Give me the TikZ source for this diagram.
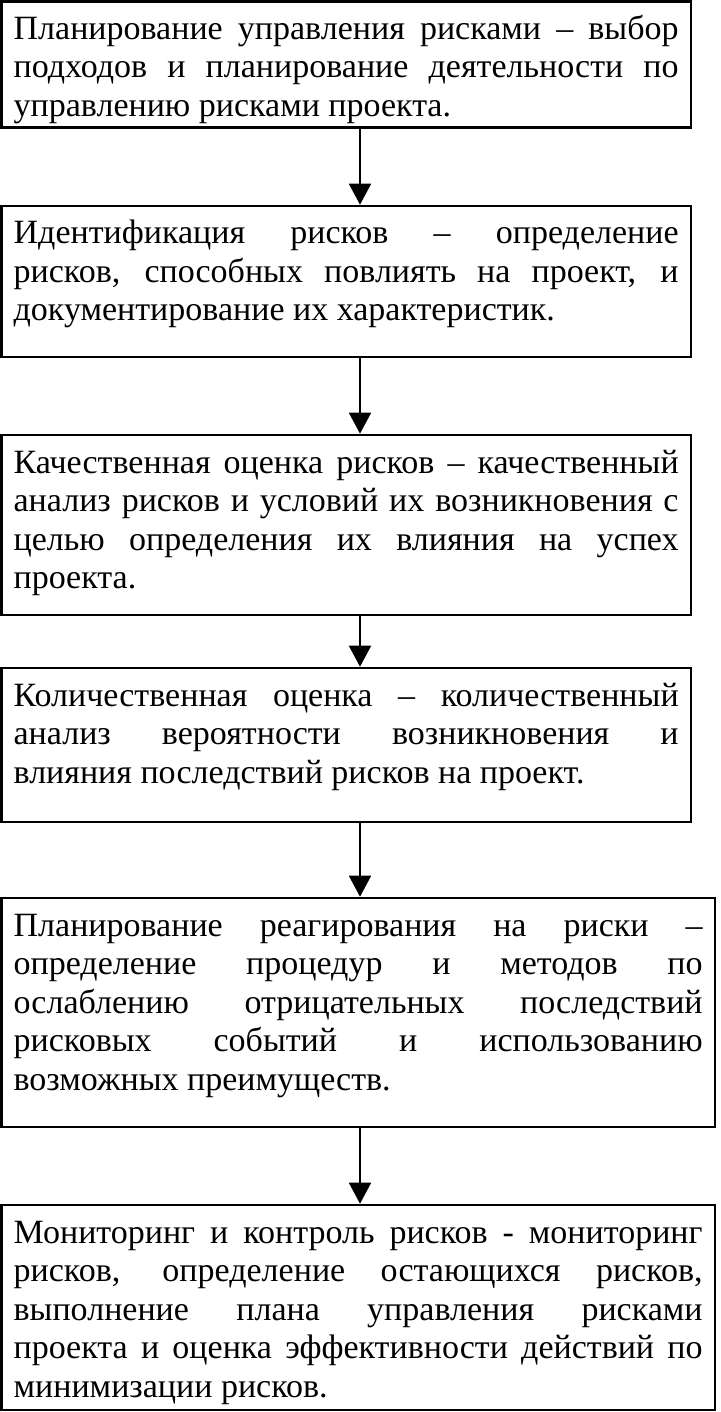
\documentclass[tikz,border=0pt]{standalone}
\usepackage{fontspec}
\setmainfont{Liberation Serif}
\usetikzlibrary{positioning, arrows.meta}

\newcommand{\fullline}[1]{\makebox[\hsize][s]{#1}}

\begin{document}
\begin{tikzpicture}[
	stage/.style={draw, line width=2.6pt, anchor=north west, align=justify,
		text width=665pt, inner xsep=12.35pt, inner ysep=6pt, text height=32pt,
		font=\fontsize{34pt}{38.5pt}\selectfont},
	wide/.style={text width=689pt},
	flow/.style={-{Triangle[length=21pt, width=22pt]}, line width=1.8pt}
	]
	\useasboundingbox (0,0) rectangle (720pt,-1412pt);
	\coordinate (axis) at (360pt,0);

	\node [stage, text depth=82pt] (plan) at (0,0)
		{\fullline{Планирование управления рисками – выбор}\\
		\fullline{подходов и планирование деятельности по}\\
		управлению рисками проекта.};
	\node [stage, text depth=107pt, below right=76.1pt and 0pt of plan.south west] (ident)
		{\fullline{Идентификация рисков – определение}\\
		\fullline{рисков, способных повлиять на проект, и}\\
		документирование их характеристик.};
	\node [stage, text depth=136pt, below right=75.4pt and 0pt of ident.south west] (quali)
		{\fullline{Качественная оценка рисков – качественный}\\
		\fullline{анализ рисков и условий их возникновения с}\\
		\fullline{целью определения их влияния на успех}\\
		проекта.};
	\node [stage, text depth=110pt, below right=50.4pt and 0pt of quali.south west] (quanti)
		{\fullline{Количественная оценка – количественный}\\
		\fullline{анализ вероятности возникновения и}\\
		влияния последствий рисков на проект.};
	\node [stage, wide, text depth=185pt, below right=73.4pt and 0pt of quanti.south west] (respond)
		{\fullline{Планирование реагирования на риски –}\\
		\fullline{определение процедур и методов по}\\
		\fullline{ослаблению отрицательных последствий}\\
		\fullline{рисковых событий и использованию}\\
		возможных преимуществ.};
	\node [stage, wide, text depth=161pt, below right=75.4pt and 0pt of respond.south west] (monitor)
		{\fullline{Мониторинг и контроль рисков - мониторинг}\\
		\fullline{рисков, определение остающихся рисков,}\\
		\fullline{выполнение плана управления рисками}\\
		\fullline{проекта и оценка эффективности действий по}\\
		минимизации рисков.};

	\foreach \from/\to in {plan/ident, ident/quali, quali/quanti, quanti/respond, respond/monitor}
		\draw [flow] (\from.south -| axis) -- (\to.north -| axis);
\end{tikzpicture}
\end{document}
